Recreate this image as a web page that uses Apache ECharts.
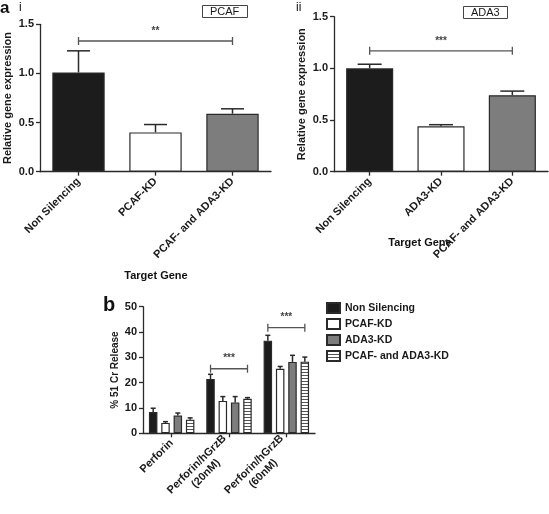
<!DOCTYPE html>
<html><head><meta charset="utf-8">
<script src="https://cdn.jsdelivr.net/npm/echarts@6/dist/echarts.min.js"></script>
<style>html,body{margin:0;padding:0;background:#fff}#c{width:549px;height:514px}</style>
</head><body><div id="c"></div>
<script>
// ---------- DATA ----------
const catsA1 = ['Non Silencing', 'PCAF-KD', 'PCAF- and ADA3-KD'];
const valsA1 = [1.01, 0.40, 0.59];
const errsA1 = [0.22, 0.08, 0.05];
const sigA1 = [[0, 2, 1.33]];
const sigA1Text = ['**'];

const catsA2 = ['Non Silencing', 'ADA3-KD', 'PCAF- and ADA3-KD'];
const valsA2 = [1.00, 0.44, 0.74];
const errsA2 = [0.04, 0.015, 0.04];
const sigA2 = [[0, 2, 1.17]];
const sigA2Text = ['***'];

const ticksA = ['0.0', '0.5', '1.0', '1.5'];

const catsB = ['Perforin', 'Perforin/hGrzB\n(20nM)', 'Perforin/hGrzB\n(60nM)'];
const namesB = ['Non Silencing', 'PCAF-KD', 'ADA3-KD', 'PCAF- and ADA3-KD'];
const valsB_NS = [8.4, 21.4, 36.6];
const errsB_NS = [1.5, 1.9, 2.1];
const valsB_PCAF = [4.1, 12.8, 25.5];
const errsB_PCAF = [0.5, 1.7, 0.9];
const valsB_ADA3 = [7.0, 12.2, 28.2];
const errsB_ADA3 = [1.0, 2.3, 2.6];
const valsB_Both = [5.4, 13.6, 28.3];
const errsB_Both = [0.7, 0.5, 1.8];
const sigB = [[1, 1, 25.5], [2, 2, 41.7]];
const sigBText = ['***', '***'];
const ticksB = ['0', '10', '20', '30', '40', '50'];

// ---------- STYLE ----------
const FONT = "'Liberation Sans', Arial, sans-serif";
const AX = '#2a2a2a';
const BLACK = '#1c1c1c', WHITE = '#ffffff', GREY = '#7d7d7d';
const stripe = document.createElement('canvas');
stripe.width = 4; stripe.height = 3;
(function () {
  const g = stripe.getContext('2d');
  g.fillStyle = '#ffffff'; g.fillRect(0, 0, 4, 3);
  g.fillStyle = '#555555'; g.fillRect(0, 0, 4, 1);
})();
const STRIPE = { image: stripe, repeat: 'repeat' };
const fillsA = [BLACK, WHITE, GREY];
const fillsB = [BLACK, WHITE, GREY, STRIPE];

const BW_B = 8.5, GAP_B = 0.45, STEP_B = BW_B * (1 + GAP_B);

function errRender(offset, cap) {
  return function (params, api) {
    const i = api.value(0), v = api.value(1), e = api.value(2);
    const p0 = api.coord([i, v]), p1 = api.coord([i, v + e]);
    const x = p0[0] + offset;
    return { type: 'group', children: [
      { type: 'line', shape: { x1: x, y1: p0[1], x2: x, y2: p1[1] }, style: { stroke: AX, lineWidth: 1.5 } },
      { type: 'line', shape: { x1: x - cap / 2, y1: p1[1], x2: x + cap / 2, y2: p1[1] }, style: { stroke: AX, lineWidth: 1.5 } }
    ]};
  };
}
function sigRender(o1, o2, texts) {
  return function (params, api) {
    const a = api.value(0), b = api.value(1), y = api.value(2);
    const pa = api.coord([a, y]), pb = api.coord([b, y]);
    const x1 = pa[0] + o1, x2 = pb[0] + o2, yy = pa[1];
    const st = { stroke: '#555', lineWidth: 1.3 };
    return { type: 'group', children: [
      { type: 'line', shape: { x1: x1, y1: yy, x2: x2, y2: yy }, style: st },
      { type: 'line', shape: { x1: x1, y1: yy - 4, x2: x1, y2: yy + 4 }, style: st },
      { type: 'line', shape: { x1: x2, y1: yy - 4, x2: x2, y2: yy + 4 }, style: st },
      { type: 'text', x: (x1 + x2) / 2, y: yy - 5, style: { text: texts[params.dataIndex], fill: '#444', font: 'bold 10px ' + FONT, align: 'center', verticalAlign: 'bottom' } }
    ]};
  };
}

function yAxisCfg(gi, max, interval, ticks, name, nameGap) {
  return {
    type: 'value', gridIndex: gi, min: 0, max: max, interval: interval,
    name: name, nameLocation: 'middle', nameGap: nameGap,
    nameTextStyle: { fontFamily: FONT, fontWeight: 'bold', fontSize: gi === 2 ? 10 : 11, color: '#1a1a1a' },
    axisLine: { show: true, lineStyle: { color: AX, width: 1.3 } },
    axisTick: { show: true, length: 4, lineStyle: { color: AX, width: 1.3 } },
    splitLine: { show: false },
    axisLabel: { fontFamily: FONT, fontWeight: 'bold', fontSize: 11, color: '#1a1a1a', margin: 6,
      formatter: function (v) { return ticks[Math.round(v / interval)]; } }
  };
}
function xAxisCfg(gi, cats, margin) {
  return {
    type: 'category', gridIndex: gi, data: cats,
    axisLine: { show: true, lineStyle: { color: AX, width: 1.3 } },
    axisTick: { show: true, alignWithLabel: true, length: 4, lineStyle: { color: AX, width: 1.3 } },
    axisLabel: { interval: 0, rotate: 45, margin: margin, fontFamily: FONT, fontWeight: 'bold', fontSize: 11, color: '#1a1a1a',
      formatter: function (v) {
        const parts = v.split('\n');
        if (parts.length === 1) return '{a|' + v + '}';
        return '{a|' + parts[0] + '}\n{c|' + parts[1] + '}';
      },
      rich: {
        a: { fontFamily: FONT, fontWeight: 'bold', fontSize: 11, color: '#1a1a1a', lineHeight: 13 },
        c: { fontFamily: FONT, fontWeight: 'bold', fontSize: 11, color: '#1a1a1a', lineHeight: 13, align: 'center' }
      }
    }
  };
}

const seriesB = [
  [valsB_NS, errsB_NS], [valsB_PCAF, errsB_PCAF], [valsB_ADA3, errsB_ADA3], [valsB_Both, errsB_Both]
];

const series = [
  { type: 'bar', xAxisIndex: 0, yAxisIndex: 0, barWidth: '68%',
    data: valsA1.map((v, i) => ({ value: v, itemStyle: { color: fillsA[i] } })),
    itemStyle: { borderColor: AX, borderWidth: 1.2 }, silent: true },
  { type: 'custom', xAxisIndex: 0, yAxisIndex: 0, renderItem: errRender(0, 23),
    data: valsA1.map((v, i) => [i, v, errsA1[i]]), z: 1 },
  { type: 'custom', xAxisIndex: 0, yAxisIndex: 0, renderItem: sigRender(0, 0, sigA1Text), data: sigA1 },

  { type: 'bar', xAxisIndex: 1, yAxisIndex: 1, barWidth: '66%',
    data: valsA2.map((v, i) => ({ value: v, itemStyle: { color: fillsA[i] } })),
    itemStyle: { borderColor: AX, borderWidth: 1.2 }, silent: true },
  { type: 'custom', xAxisIndex: 1, yAxisIndex: 1, renderItem: errRender(0, 24),
    data: valsA2.map((v, i) => [i, v, errsA2[i]]), z: 1 },
  { type: 'custom', xAxisIndex: 1, yAxisIndex: 1, renderItem: sigRender(0, 0, sigA2Text), data: sigA2 }
];
seriesB.forEach(function (s, k) {
  series.push({ type: 'bar', name: namesB[k], xAxisIndex: 2, yAxisIndex: 2, barWidth: BW_B, barGap: (GAP_B * 100) + '%',
    data: s[0], itemStyle: { color: fillsB[k], borderColor: AX, borderWidth: 1.2 } });
  series.push({ type: 'custom', xAxisIndex: 2, yAxisIndex: 2, renderItem: errRender((k - 1.5) * STEP_B, 5),
    data: s[0].map((v, i) => [i, v, s[1][i]]), z: 1 });
});
series.push({ type: 'custom', xAxisIndex: 2, yAxisIndex: 2, renderItem: sigRender(-1.5 * STEP_B, 1.5 * STEP_B, sigBText), data: sigB });

const option = {
  animation: false,
  backgroundColor: '#fff',
  textStyle: { fontFamily: FONT },
  grid: [
    { left: 40, width: 231, top: 24.3, height: 147.4 },
    { left: 334, width: 214, top: 16.7, height: 155 },
    { left: 143, width: 172, top: 306.7, height: 126.6 }
  ],
  xAxis: [xAxisCfg(0, catsA1, 8), xAxisCfg(1, catsA2, 8), xAxisCfg(2, catsB, 8)],
  yAxis: [
    yAxisCfg(0, 1.5, 0.5, ticksA, 'Relative gene expression', 27),
    yAxisCfg(1, 1.5, 0.5, ticksA, 'Relative gene expression', 27),
    yAxisCfg(2, 50, 10, ticksB, '% 51 Cr Release', 23)
  ],
  legend: {
    data: namesB, orient: 'vertical', left: 321, top: 297, itemWidth: 13, itemHeight: 10, itemGap: 4,
    icon: 'rect', selectedMode: false,
    textStyle: { fontFamily: FONT, fontWeight: 'bold', fontSize: 10.5, color: '#1a1a1a' }
  },
  title: [
    { text: 'PCAF', left: 202, top: 5, padding: [1, 8], borderColor: '#444', borderWidth: 1,
      textStyle: { fontFamily: FONT, fontWeight: 'normal', fontSize: 11, color: '#1a1a1a', lineHeight: 11 } },
    { text: 'ADA3', left: 463, top: 6, padding: [1, 8], borderColor: '#444', borderWidth: 1,
      textStyle: { fontFamily: FONT, fontWeight: 'normal', fontSize: 11, color: '#1a1a1a', lineHeight: 11 } }
  ],
  graphic: [
    { type: 'text', left: 0, top: 0, style: { text: 'a', font: 'bold 17px ' + FONT, fill: '#111' } },
    { type: 'text', left: 19, top: 2, style: { text: 'i', font: '12px ' + FONT, fill: '#111' } },
    { type: 'text', left: 296, top: 2, style: { text: 'ii', font: '12px ' + FONT, fill: '#111' } },
    { type: 'text', left: 103, top: 295, style: { text: 'b', font: 'bold 20px ' + FONT, fill: '#111' } },
    { type: 'text', x: 156, y: 276, style: { text: 'Target Gene', font: 'bold 11px ' + FONT, fill: '#111', align: 'center', verticalAlign: 'middle' } },
    { type: 'text', x: 420, y: 243, style: { text: 'Target Gene', font: 'bold 11px ' + FONT, fill: '#111', align: 'center', verticalAlign: 'middle' } }
  ],
  series: series
};
const chart = echarts.init(document.getElementById('c'), null, { renderer: 'canvas' });
chart.setOption(option);
</script>
</body></html>
